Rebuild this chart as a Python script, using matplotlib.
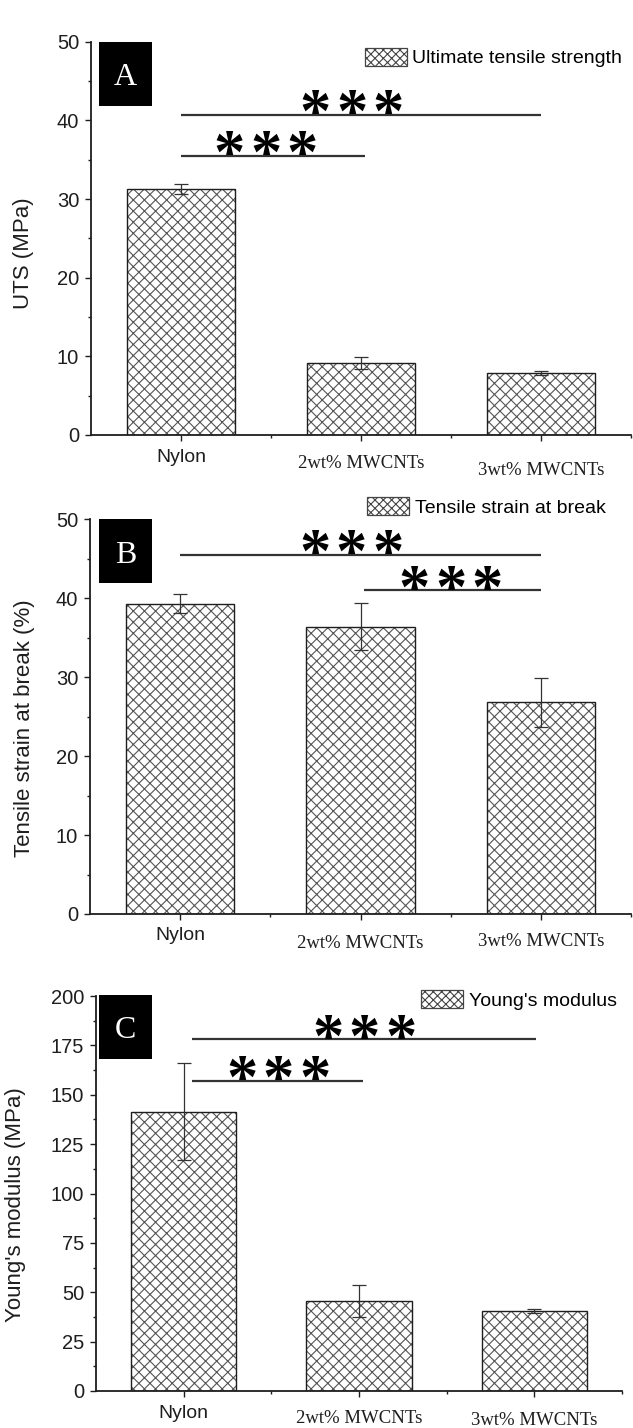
import matplotlib
matplotlib.use('Agg')
import matplotlib.pyplot as plt
from matplotlib.patches import Patch, Rectangle
from matplotlib.ticker import MultipleLocator, FixedLocator

# ---------------- data ----------------
categories = ['Nylon', '2wt% MWCNTs', '3wt% MWCNTs']

uts_mean = [31.3, 9.2, 7.85]
uts_err = [0.6, 0.75, 0.25]

strain_mean = [39.3, 36.4, 26.8]
strain_err = [1.2, 2.95, 3.05]

modulus_mean = [141.5, 45.5, 40.5]
modulus_err = [24.6, 8.2, 0.8]

panel_letters = ['A', 'B', 'C']
ylabels = ['UTS (MPa)', 'Tensile strain at break (%)', "Young's modulus (MPa)"]
legend_labels = ['Ultimate tensile strength', 'Tensile strain at break', "Young's modulus"]
ymax = [50, 50, 200]
ystep = [10, 10, 25]

# significance bars: (x start, x end, level, star centre x)
sig_A = [(0, 1.02, 35.5, 0.47), (0, 2, 40.7, 0.95)]
sig_B = [(0, 2, 45.5, 0.95), (1.02, 2, 41.0, 1.5)]
sig_C = [(0.05, 1.02, 157, 0.54), (0.05, 2.01, 178, 1.03)]
stars = 3

# ---------------- style / layout ----------------
W, H = 633, 1428
plt.rcParams['hatch.linewidth'] = 0.8
plt.rcParams['font.family'] = ['Liberation Sans', 'DejaVu Sans']

fig = plt.figure(figsize=(W / 100, H / 100), dpi=100)
fig.patch.set_facecolor('white')

rects = [
    [91 / W, 1 - 435 / H, 540 / W, 393.3 / H],
    [90 / W, 1 - 914 / H, 541 / W, 394.7 / H],
    [96 / W, 1 - 1391 / H, 526 / W, 395 / H],
]
legend_pos = [(0.507, 0.985), (0.512, 1.057), (0.618, 1.015)]
ylabel_pos = [(-0.106, 0.463), (-0.102, 0.471), (-0.133, 0.473)]
box_pos = [(0.0148, 0.837, 0.099, 0.163), (0.0166, 0.838, 0.098, 0.162),
           (0.0057, 0.8405, 0.1008, 0.162)]
label_drop = [[14, 20, 27], [13, 21, 19], [14, 19, 21]]  # px below axis

means = [uts_mean, strain_mean, modulus_mean]
errs = [uts_err, strain_err, modulus_err]
sigs = [sig_A, sig_B, sig_C]

ink = '#1e1e1e'
hatch_col = '#555555'
x = list(range(len(categories)))
star_gap_pt = 26.3   # centre-to-centre distance of the asterisks

for i in range(3):
    ax = fig.add_axes(rects[i])
    ax.set_facecolor('none')
    ax.bar(x, means[i], width=0.6, color='white', edgecolor=hatch_col,
           hatch='xxx', linewidth=0, zorder=2)
    ax.bar(x, means[i], width=0.6, fill=False, edgecolor=ink,
           linewidth=1.0, zorder=2.5)
    ax.errorbar(x, means[i], yerr=errs[i], fmt='none', ecolor='#333333',
                elinewidth=0.9, capsize=5, capthick=0.9, zorder=3)

    ax.set_xlim(-0.5, 2.5)
    ax.set_ylim(0, ymax[i])
    for s in ['top', 'right']:
        ax.spines[s].set_visible(False)
    for s in ['left', 'bottom']:
        ax.spines[s].set_linewidth(1.3)
        ax.spines[s].set_color(ink)

    ax.yaxis.set_major_locator(MultipleLocator(ystep[i]))
    ax.yaxis.set_minor_locator(MultipleLocator(ystep[i] / 2))
    ax.xaxis.set_major_locator(FixedLocator(x))
    ax.xaxis.set_minor_locator(FixedLocator([0.5, 1.5, 2.5]))
    ax.tick_params(axis='y', which='major', direction='out', length=4, width=1,
                   labelsize=14.5, pad=4.5, colors=ink)
    ax.tick_params(axis='y', which='minor', direction='out', length=2.5, width=1, colors=ink)
    ax.tick_params(axis='x', which='major', direction='out', length=4.5, width=1,
                   labelbottom=False, colors=ink)
    ax.tick_params(axis='x', which='minor', direction='out', length=2.5, width=1, colors=ink)

    # category labels (Nylon in sans, others in serif, staggered like the original)
    for j, cat in enumerate(categories):
        fam = ['Liberation Sans'] if j == 0 else ['Liberation Serif']
        fs = 14 if j == 0 else 13.5
        ax.annotate(cat, xy=(x[j], 0), xycoords=('data', 'axes fraction'),
                    xytext=(0, -label_drop[i][j] * 0.72), textcoords='offset points',
                    ha='center', va='top', fontsize=fs, family=fam, color=ink)

    ax.set_ylabel(ylabels[i], fontsize=16, color=ink)
    ax.yaxis.set_label_coords(*ylabel_pos[i])

    # significance lines and stars
    for (x0, x1, lev, sx) in sigs[i]:
        ax.plot([x0, x1], [lev, lev], color='#333333', lw=1.6, zorder=4,
                solid_capstyle='butt')
        ax.annotate('*', xy=(sx, lev), xytext=(0, -12.5), textcoords='offset points',
                    ha='center', va='baseline', fontsize=45,
                    family=['Liberation Serif'], weight='bold', color='black', zorder=5)
        for k in range(stars):
            if k == (stars - 1) // 2:
                continue
            dx = (k - (stars - 1) / 2) * star_gap_pt
            ax.annotate('*', xy=(sx, lev), xytext=(dx, -12.5), textcoords='offset points',
                        ha='center', va='baseline', fontsize=45,
                        family=['Liberation Serif'], weight='bold', color='black', zorder=5)

    # panel letter box
    bx, by, bw, bh = box_pos[i]
    ax.add_patch(Rectangle((bx, by), bw, bh, transform=ax.transAxes,
                           facecolor='black', edgecolor='none', clip_on=False, zorder=6))
    ax.text(bx + bw / 2, by + bh / 2 - 0.01, panel_letters[i], transform=ax.transAxes,
            ha='center', va='center', color='white', fontsize=23,
            family=['Liberation Serif'], zorder=7)

    handle = Patch(facecolor='white', edgecolor='#444444', hatch='xxxx', linewidth=0.9)
    ax.legend([handle], [legend_labels[i]], loc='upper left',
              bbox_to_anchor=legend_pos[i], frameon=False, fontsize=14,
              handlelength=2.15, handleheight=1.08, handletextpad=0.3,
              borderpad=0, borderaxespad=0)

fig.savefig('out.png', dpi=100, facecolor='white')
